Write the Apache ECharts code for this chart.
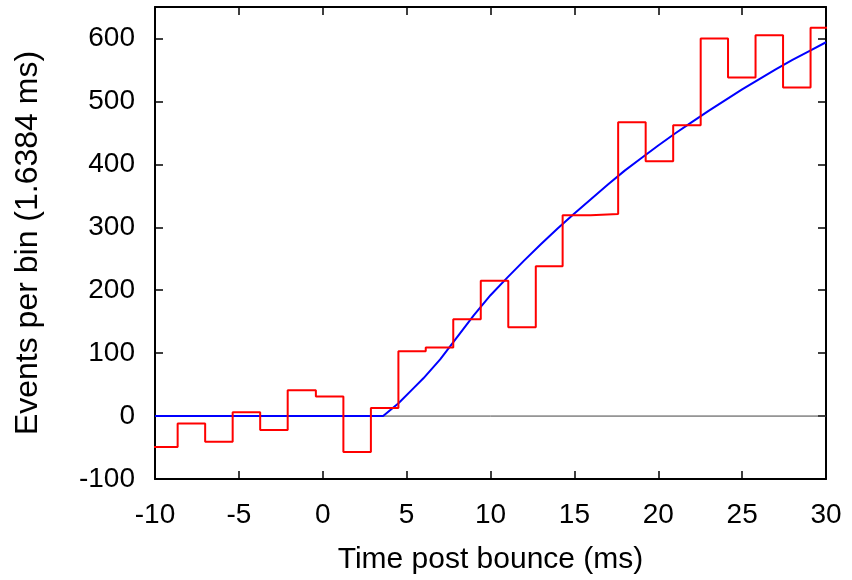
<!DOCTYPE html>
<html>
<head>
<meta charset="utf-8">
<script src="https://cdn.jsdelivr.net/npm/echarts@6/dist/echarts.min.js"></script>
<style>html,body{margin:0;padding:0;background:#fff;}#c{width:852px;height:580px;}</style>
</head>
<body>
<div id="c"></div>
<script>
// Histogram bin left edges (ms) and counts per bin
const binEdges = [-10.24, -8.65, -7.01, -5.37, -3.73, -2.09, -0.41, 1.23, 2.87, 4.51, 6.14, 7.78, 9.42, 11.06, 12.70, 14.30, 15.97, 17.61, 19.25, 20.89, 22.53, 24.16, 25.80, 27.44, 29.08, 30.72];
const binCounts = [-49, -12, -41, 6, -22, 41, 31, -57, 13, 103, 109, 154, 215, 141, 238, 319, 321, 467, 405, 462, 600, 538, 605, 522, 617];
// Fit curve (blue)
const fitTime = [-10, 3.6, 4.5, 5.4, 6, 7, 8, 9, 10, 11, 12, 13, 14, 15, 16, 17, 18, 19, 20, 21, 22, 23, 24, 25, 26, 27, 28, 29, 30];
const fitValue = [0, 0, 20, 44, 60, 90, 125, 160, 192, 220, 247, 273, 298, 322, 345, 368, 390, 410, 430, 449, 467, 485, 502, 519, 535, 551, 566, 580, 594];
// Axis ticks
const xTicks = [-10, -5, 0, 5, 10, 15, 20, 25, 30];
const yTicks = [-100, 0, 100, 200, 300, 400, 500, 600];
const yMax = 650;

const stepData = binCounts.map((v, i) => [binEdges[i], v]);
stepData.push([binEdges[binCounts.length], binCounts[binCounts.length - 1]]);
const fitData = fitTime.map((t, i) => [t, fitValue[i]]);

const font = 'Liberation Sans, Arial, Helvetica, sans-serif';
const axisCommon = {
  type: 'value',
  axisLine: { show: true, onZero: false, lineStyle: { color: '#000', width: 2 } },
  axisTick: { show: true, inside: true, length: 8, lineStyle: { color: '#000', width: 1.5 } },
  splitLine: { show: false }
};
const yTickFmt = v => (yTicks.indexOf(v) >= 0 ? String(v) : '');

const chart = echarts.init(document.getElementById('c'), null, { renderer: 'canvas' });
chart.setOption({
  animation: false,
  backgroundColor: '#fff',
  grid: { left: 155, right: 26, top: 7, bottom: 99 },
  xAxis: [
    Object.assign({}, axisCommon, {
      position: 'bottom', min: xTicks[0], max: xTicks[xTicks.length - 1], interval: 5,
      name: 'Time post bounce (ms)', nameLocation: 'middle', nameGap: 66,
      nameTextStyle: { fontFamily: font, fontSize: 30, color: '#000' },
      axisLabel: { margin: 22, fontFamily: font, fontSize: 28, color: '#000' }
    }),
    Object.assign({}, axisCommon, {
      position: 'top', min: xTicks[0], max: xTicks[xTicks.length - 1], interval: 5,
      axisLabel: { show: false }
    })
  ],
  yAxis: [
    Object.assign({}, axisCommon, {
      position: 'left', min: yTicks[0], max: yMax, interval: 100,
      name: 'Events per bin (1.6384 ms)', nameLocation: 'middle', nameGap: 111,
      nameTextStyle: { fontFamily: font, fontSize: 32, color: '#000' },
      axisLabel: { margin: 20, fontFamily: font, fontSize: 28, color: '#000', showMaxLabel: false, formatter: yTickFmt }
    }),
    Object.assign({}, axisCommon, {
      position: 'right', min: yTicks[0], max: yMax, interval: 100,
      axisLabel: { show: false }
    })
  ],
  series: [
    {
      type: 'line', data: [[xTicks[0], 0], [xTicks[xTicks.length - 1], 0]],
      symbol: 'none', lineStyle: { color: '#444', width: 1 }, silent: true, z: 1
    },
    {
      type: 'line', data: fitData, symbol: 'none', smooth: false,
      lineStyle: { color: '#0000ff', width: 2 }, z: 2
    },
    {
      type: 'line', data: stepData, step: 'end', symbol: 'none',
      lineStyle: { color: '#ff0000', width: 2 }, z: 3, clip: true
    }
  ]
});
</script>
</body>
</html>
